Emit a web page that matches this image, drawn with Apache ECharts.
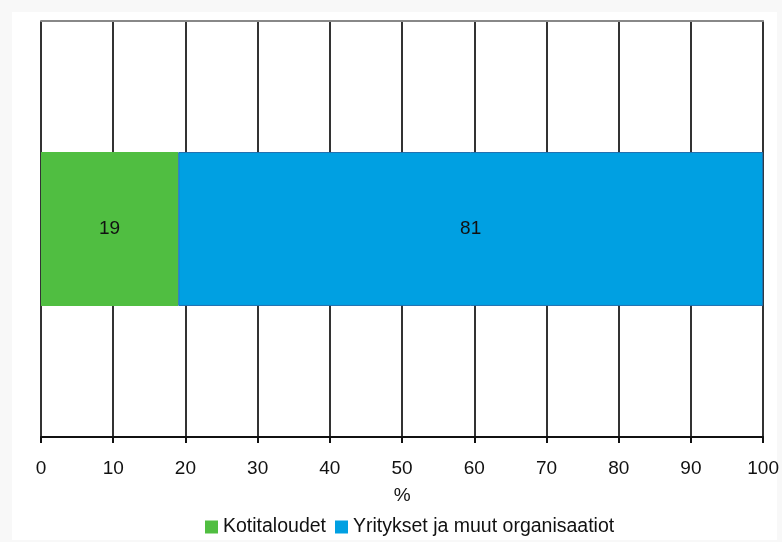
<!DOCTYPE html>
<html>
<head>
<meta charset="utf-8">
<script src="https://cdn.jsdelivr.net/npm/echarts@6/dist/echarts.min.js"></script>
<style>
  html, body { margin: 0; padding: 0; background: #f8f8f8; }
  #wrap { position: relative; width: 782px; height: 542px; }
  #paper { position: absolute; left: 12px; top: 12px; width: 765px; height: 528px; background: #fff; }
  #chart { position: absolute; left: 0; top: 0; width: 782px; height: 542px; }
</style>
</head>
<body>
<div id="wrap">
  <div id="paper"></div>
  <div id="chart"></div>
</div>
<script>
// Data
const categories = ['']
const seriesNames = ['Kotitaloudet', 'Yritykset ja muut organisaatiot']
const householdValues = [19]
const companyValues = [81]
const colors = ['#50be41', '#00a0e2']
const axisName = '%'

const font = '"Liberation Sans", Arial, sans-serif'

const chart = echarts.init(document.getElementById('chart'))

chart.setOption({
  animation: false,
  textStyle: { fontFamily: font },
  grid: { left: 41, right: 18, top: 21, bottom: 105, containLabel: false },
  legend: {
    data: seriesNames,
    bottom: 0,
    left: 200,
    itemWidth: 13,
    itemHeight: 13,
    itemGap: 9,
    icon: 'rect',
    itemStyle: { borderWidth: 0 },
    textStyle: { fontFamily: font, fontSize: 19.5, color: '#111' }
  },
  xAxis: [
    {
      type: 'value',
      min: 0,
      max: 100,
      interval: 10,
      name: axisName,
      nameLocation: 'middle',
      nameGap: 49,
      nameTextStyle: { fontFamily: font, fontSize: 19, color: '#111' },
      axisLine: { show: true, lineStyle: { color: '#111', width: 2 } },
      axisTick: { show: true, length: 6, lineStyle: { color: '#111', width: 2 } },
      axisLabel: { margin: 22, fontFamily: font, fontSize: 19, color: '#111' },
      splitLine: { show: true, lineStyle: { color: '#333', width: 2 } }
    },
    {
      type: 'value',
      position: 'top',
      min: 0,
      max: 100,
      axisLine: { show: true, lineStyle: { color: '#888', width: 2 } },
      axisTick: { show: false },
      axisLabel: { show: false },
      splitLine: { show: false }
    }
  ],
  yAxis: {
    type: 'category',
    data: categories,
    axisLine: { show: false },
    axisTick: { show: false },
    axisLabel: { show: false }
  },
  series: [
    {
      name: seriesNames[0],
      type: 'bar',
      stack: 'total',
      data: householdValues,
      barWidth: '37%',
      itemStyle: { color: colors[0] },
      label: { show: true, position: 'inside', color: '#111', fontFamily: font, fontSize: 19 }
    },
    {
      name: seriesNames[1],
      type: 'bar',
      stack: 'total',
      data: companyValues,
      barWidth: '37%',
      itemStyle: { color: colors[1], borderColor: '#1f6fb0', borderWidth: 1 },
      label: { show: true, position: 'inside', color: '#111', fontFamily: font, fontSize: 19 }
    }
  ]
})
</script>
</body>
</html>
